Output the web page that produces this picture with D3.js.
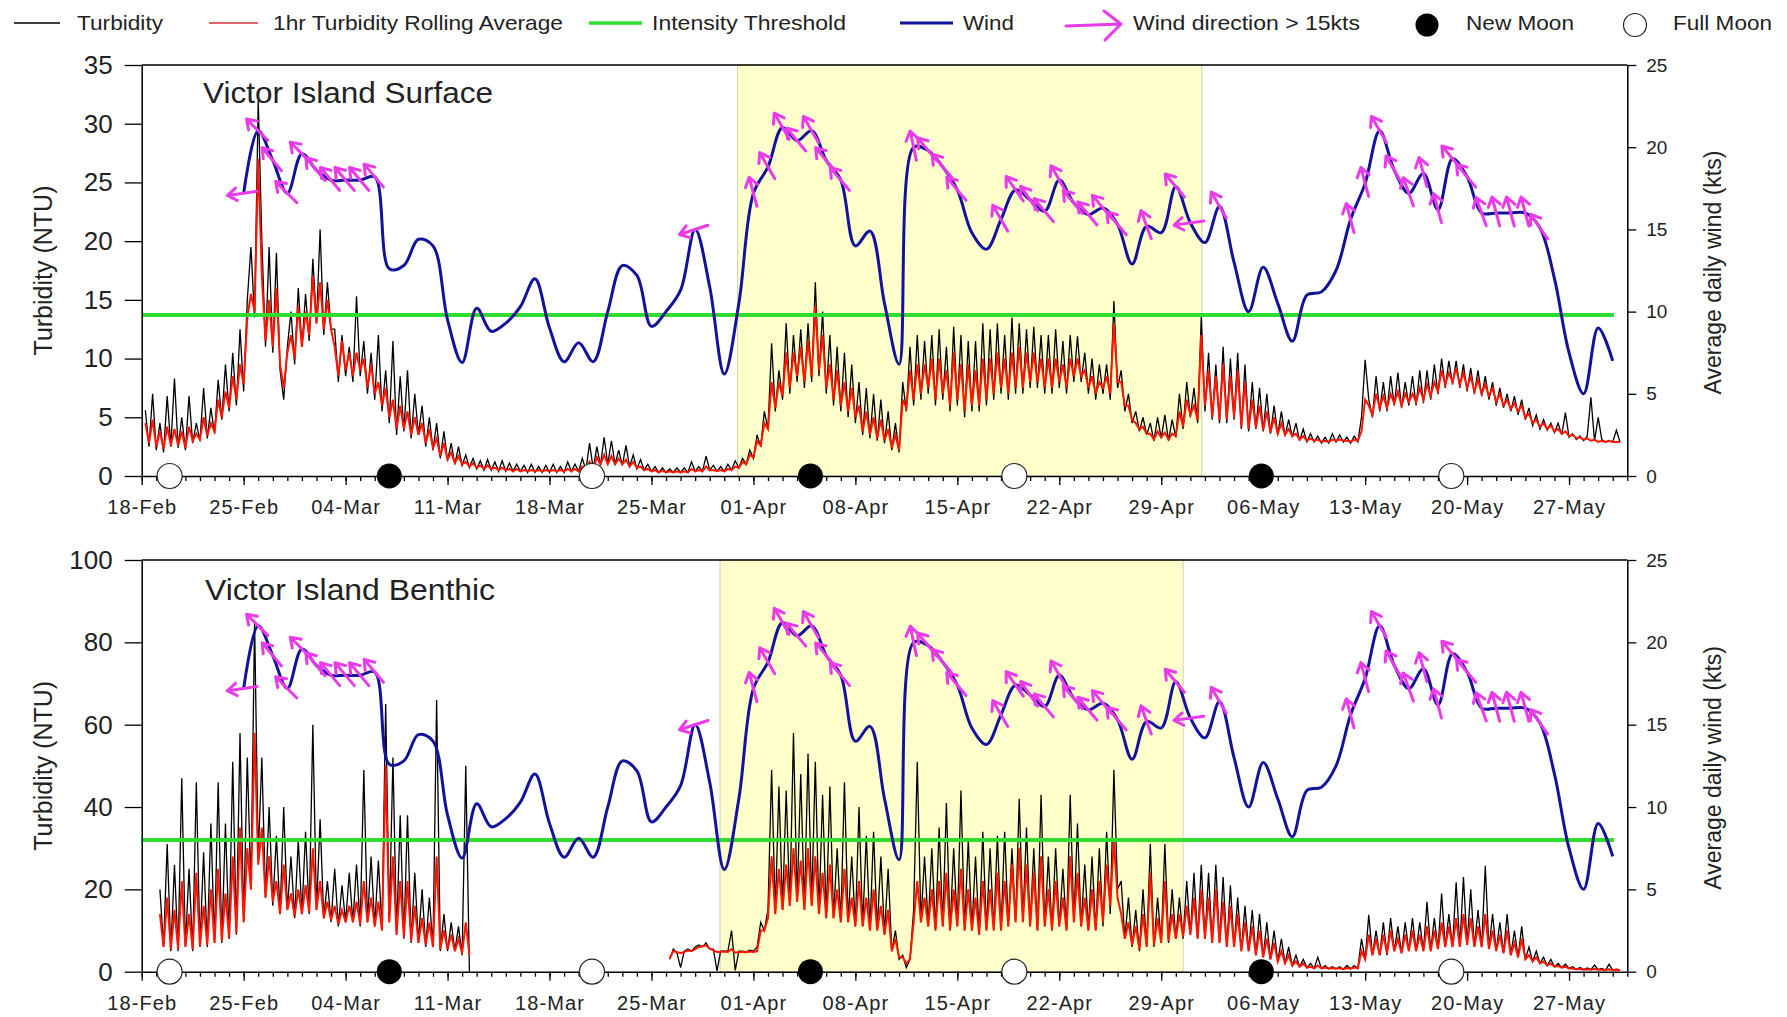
<!DOCTYPE html>
<html>
<head>
<meta charset="utf-8">
<script src="https://cdn.jsdelivr.net/npm/d3@7"></script>
<style>
body { margin: 0; background: #fff; }
svg text { font-family: "Liberation Sans", Arial, sans-serif; fill: #222; }
</style>
</head>
<body>
<svg id="chart" width="1787" height="1017"></svg>
<script>
// ---- data (days counted from 18-Feb-2019 00:00, 6-hourly samples) ----
var surfStartDay = 0.25
var surfTurb = [
  5.6,2.5,7.0,2.2, 4.5,2.0,6.8,2.5, 8.3,2.4,5.0,2.2, 6.8,2.8,4.5,3.0, 7.5,3.2,5.8,3.6, 8.2,4.8,9.5,5.5, 10.5,6.0,12.5,7.2,
  15.0,19.5,13.5,32.0, 20.0,11.0,19.5,10.5, 19.0,9.0,6.5,11.0, 14.0,9.5,16.0,11.0, 15.5,11.5,18.5,13.0, 21.0,12.0,16.5,12.5, 12.5,8.0,12.0,8.5,
  11.0,8.0,15.3,8.5, 11.5,7.0,10.5,6.5, 12.0,5.5,9.0,4.5, 11.5,3.5,8.5,3.8, 9.0,3.2,7.0,3.5, 6.0,2.5,5.0,2.2, 4.5,1.5,3.8,1.3,
  2.8,1.0,2.5,0.9, 1.8,0.7,1.5,0.6, 1.3,0.5,1.4,0.5, 1.2,0.4,1.3,0.4, 1.1,0.4,1.0,0.4, 0.9,0.3,1.0,0.3, 0.8,0.3,0.9,0.3,
  1.0,0.3,0.8,0.3, 1.2,0.4,1.0,0.4, 1.5,0.5,2.8,0.6, 2.5,0.9,3.3,1.0, 3.0,1.0,2.2,0.9, 2.6,0.8,1.8,0.6, 1.4,0.5,1.0,0.4,
  0.8,0.3,0.7,0.3, 0.6,0.3,0.7,0.3, 0.7,0.3,1.2,0.4, 0.8,0.4,1.7,0.5, 0.9,0.4,0.8,0.4, 1.0,0.5,1.3,0.7, 1.5,1.0,2.2,1.5,
  3.5,2.5,5.5,4.0, 11.3,5.5,9.0,6.5, 13.0,7.0,12.0,8.0, 12.5,7.5,13.0,8.0, 16.5,8.5,14.0,7.0, 12.0,6.0,11.0,5.5, 10.5,5.0,9.5,4.5,
  8.0,3.5,7.5,3.2, 7.0,3.0,6.5,2.8, 5.5,2.2,4.5,2.0, 8.0,5.5,11.0,6.0, 12.0,6.5,11.5,7.0, 12.0,6.0,12.5,6.5, 11.0,5.5,12.7,6.0,
  12.0,5.0,11.5,5.5, 11.5,5.5,13.0,6.0, 12.5,6.5,13.0,7.0, 12.0,6.5,13.5,7.0, 13.0,7.0,12.5,7.5, 12.7,7.5,12.0,7.0, 12.0,7.0,12.5,7.5,
  11.5,7.0,12.0,8.0, 11.9,8.0,10.5,7.0, 10.0,6.5,9.5,7.0, 9.5,6.5,14.9,7.5, 9.0,5.5,7.0,4.5, 5.5,3.8,5.0,3.5, 4.5,3.0,5.0,3.2,
  5.2,3.0,4.8,3.3, 7.0,4.0,8.0,5.0, 7.5,4.5,13.6,5.5, 10.5,4.8,9.5,4.5, 11.0,4.5,10.0,4.8, 10.5,4.0,9.5,3.8, 8.0,4.0,7.5,3.8,
  7.0,3.6,6.0,3.5, 5.5,3.4,4.8,3.3, 4.5,3.0,4.0,2.9, 3.6,2.9,3.4,2.8, 3.3,2.8,3.6,2.9, 3.5,2.9,3.3,2.8, 3.4,2.9,5.0,9.9,
  6.5,5.0,8.5,5.5, 8.0,5.5,8.5,6.0, 8.8,5.8,8.0,6.0, 8.5,6.0,9.0,6.2, 9.0,6.5,9.5,7.0, 10.0,7.5,9.8,7.8, 9.8,7.5,9.5,7.2,
  9.2,7.0,9.0,6.8, 8.5,6.5,8.0,6.0, 7.5,5.8,7.0,5.5, 6.8,5.2,6.5,4.8, 5.8,4.3,5.2,4.0, 4.8,3.9,4.5,3.7, 4.5,3.5,5.4,3.3,
  3.6,3.1,3.4,3.0, 3.4,6.7,3.0,5.0, 3.1,2.9,3.0,2.9, 3.9,2.9
]
var surfAvg = [
  4.5,2.8,4.8,2.5, 3.8,2.3,4.2,2.6, 4.0,2.6,3.8,2.4, 4.2,3.0,3.6,3.1, 5.0,3.4,4.5,3.8, 6.5,5.0,7.2,5.8, 8.5,6.5,9.5,7.8,
  13.5,15.5,14.0,27.0, 17.0,11.5,15.0,11.0, 16.0,9.5,7.5,10.5, 12.0,10.0,14.5,11.0, 14.0,12.0,17.0,13.0, 16.5,12.5,15.0,12.5, 11.0,8.5,11.5,9.0,
  10.5,8.5,10.5,9.0, 10.0,7.5,9.5,7.0, 8.0,6.0,7.5,5.0, 6.5,4.0,6.0,4.0, 5.5,3.5,5.0,3.5, 4.5,2.8,4.0,2.4, 3.2,1.7,2.8,1.4,
  2.0,1.1,1.7,1.0, 1.2,0.8,1.1,0.7, 0.9,0.6,0.9,0.6, 0.7,0.5,0.7,0.5, 0.6,0.4,0.6,0.4, 0.5,0.4,0.5,0.4, 0.5,0.4,0.5,0.4,
  0.5,0.4,0.5,0.4, 0.6,0.4,0.6,0.4, 0.8,0.5,1.2,0.6, 1.6,1.0,1.8,1.0, 1.7,1.0,1.5,1.0, 1.4,0.8,1.2,0.7, 0.8,0.5,0.6,0.4,
  0.5,0.3,0.5,0.3, 0.4,0.3,0.4,0.3, 0.4,0.3,0.6,0.4, 0.5,0.4,0.8,0.5, 0.5,0.4,0.5,0.4, 0.6,0.5,0.8,0.7, 1.2,1.0,1.8,1.6,
  3.0,2.6,4.5,4.0, 8.0,5.8,8.0,6.8, 10.5,7.5,10.5,8.5, 11.0,8.0,11.5,8.5, 14.5,9.0,12.0,7.5, 9.5,6.5,9.0,6.0, 8.0,5.5,7.5,5.0,
  6.0,3.8,5.5,3.5, 5.0,3.2,4.8,3.0, 4.0,2.4,3.5,2.2, 6.5,5.8,9.0,6.5, 9.5,7.0,9.5,7.5, 10.0,6.5,10.0,7.0, 9.0,6.0,10.5,6.5,
  9.5,5.5,9.5,6.0, 9.0,6.0,10.0,6.5, 10.0,7.0,10.5,7.5, 10.0,7.0,10.5,7.5, 11.0,7.5,10.5,8.0, 10.5,8.0,10.0,7.5, 10.0,7.5,10.0,8.0,
  9.5,7.5,10.0,8.5, 10.0,8.5,9.0,7.5, 8.5,7.0,8.0,7.5, 8.5,7.0,13.0,8.0, 8.0,6.0,6.0,4.8, 4.5,4.0,4.2,3.6, 3.6,3.1,3.8,3.3,
  3.7,3.1,3.6,3.4, 5.5,4.2,6.5,5.2, 6.0,4.8,12.0,6.0, 9.0,5.0,8.5,4.8, 9.5,4.8,8.5,5.0, 9.0,4.2,8.0,4.0, 6.5,4.1,6.0,3.9,
  5.5,3.7,5.0,3.6, 4.5,3.5,4.0,3.4, 3.6,3.1,3.4,3.0, 3.2,3.0,3.1,2.9, 3.0,2.9,3.1,3.0, 3.1,3.0,3.0,2.9, 3.1,3.0,3.8,6.5,
  6.0,5.2,7.0,5.8, 6.8,5.8,7.0,6.2, 7.2,6.0,7.0,6.3, 7.0,6.3,7.5,6.5, 7.8,6.8,8.0,7.2, 9.0,7.8,8.8,8.0, 9.2,7.8,8.8,7.5,
  8.5,7.2,8.2,7.0, 7.8,6.8,7.5,6.3, 7.0,6.0,6.5,5.7, 6.2,5.5,6.0,5.0, 5.3,4.5,4.8,4.2, 4.5,4.0,4.3,3.8, 4.0,3.6,3.8,3.4,
  3.5,3.2,3.3,3.1, 3.2,3.0,3.1,2.9, 3.0,2.9,3.0,2.9, 2.9,2.9
]

// benthic logger: two deployments with a gap in March
var benStartDay1 = 1.25
var benTurb1 = [
  20,6,31,5, 26,5,47,6, 25,5,46,6, 29,6,36,7, 46,7,36,8, 51,9,58,12, 52,20,85,28,
  52,18,40,16, 33,14,40,15, 28,13,32,14, 34,14,60,15, 37,13,22,12, 25,11,21,12, 24,12,26,11,
  49,12,28,11, 27,10,65,12, 52,9,38,8, 38,7,24,7, 20,6,18,6, 66,5,14,5, 12,5,11,4, 50,0
]
var benAvg1 = [
  14,6,18,5.5, 15,5.5,22,6, 14,5.5,24,6, 16,6.5,20,7, 25,7.5,19,8, 28,9.5,35,12, 30,20,58,26,
  35,18,28,17, 22,14,26,15, 19,13.5,20,14, 21,14.5,30,15, 22,13,17,12.5, 16,11.5,15,12, 16,12,17,11.5,
  22,12,18,11, 17,10,50,12, 28,9,22,8.5, 22,7.5,16,7, 13,6.5,12,6, 28,5.5,10,5.5, 9,5,8,4.5, 12,4
]
var benStartDay2 = 36.25
var benTurb2 = [
  3,5.5,4.5,1.0, 5,5.5,5,6, 6.5,6,7,5.5, 5.5,0.2,5,5, 5,10,0.3,5, 5,4.8,5.2,5, 6,12,10,15,
  49,14,45,15, 44,16,58,17, 48,15,53,16, 51,14,43,13, 45,13,30,12, 46,12,28,11, 40,11,33,10,
  34,10,28,9, 25,5,10,3, 4,1,3,15, 51,12,28,11, 30,10,35,11, 41,10,30,11, 44,10,32,10,
  28,9,34,10, 30,10,33,10, 34,11,30,12, 42,12,35,11, 30,10,43,11, 28,10,30,11, 25,10,43,12,
  36,11,26,10, 28,10,30,11, 34,14,49,20, 22,8,18,6, 15,5,20,6, 31,6,18,7, 31,7,20,8,
  18,8,22,9, 24,8,26,8, 24,7,26,7, 23,6,21,6, 18,5,16,5, 15,4,14,3.5, 12,3,10,2.5,
  8,2,6,1.5, 4,1.2,3,1, 2,0.8,3.5,0.8, 1.5,0.7,1.2,0.7, 1.2,0.6,1.5,0.7, 1.5,0.8,8,3, 13.8,4,10,4,
  12,4,13,5, 11,4.5,12,5, 13,5,12,5, 17,5,13,5.5, 19,6,14,6, 21.7,6,23,6.5, 20,6,15,6,
  25.7,5.5,14,5, 12,4.5,14,4, 10,3.5,11,3, 6,2.5,5,2, 3.5,1.5,3,1.2, 2,1,1.8,0.8, 1.2,0.6,1,0.5,
  0.9,0.5,1.6,0.5, 0.8,0.4,1.8,0.4, 0.6,0.4
]
var benAvg2 = [
  3.2,5,4.8,4.5, 4.8,5.2,5.0,5.5, 6.0,6.2,6.4,5.6, 5.2,4.8,4.8,4.9, 4.8,5.5,4.6,4.8, 4.8,4.7,4.9,4.8, 5,10,10,13,
  28,14,25,15, 26,16,30,17, 27,15,30,16, 28,14,24,13, 26,13,20,12, 25,12,18,11, 22,11,18,10,
  20,10,16,9, 15,5,8,3.5, 3.5,2,3,12, 22,12,18,11, 20,10,22,11, 24,10,20,11, 25,10,20,10,
  18,9,22,10, 20,10,24,10, 22,11,26,12, 30,12,26,11, 24,10,28,11, 20,10,22,11, 18,10,28,12,
  24,11,18,10, 20,10,22,12, 26,16,32,18, 14,8,12,6.5, 11,5.5,14,6, 24,6.5,13,7, 22,7.5,14,8,
  14,8.5,16,9, 18,8,20,8, 18,7,20,7, 17,6,16,6, 14,5,12,5, 11,4,10,3.5, 8,3,7,2.5,
  5,2,4,1.5, 2.5,1.2,2,1, 1.2,0.8,1.5,0.8, 1,0.7,0.9,0.7, 0.9,0.6,0.9,0.7, 1,0.8,5,3, 9,4,8,4,
  9,4.5,10,5, 8,4.5,9,5, 10,5,9,5, 11,5,10,5.5, 12,6,11,6, 13,6,14,6.5, 13,6,11,6,
  14,5.5,10,5, 9,4.5,10,4, 7,3.5,8,3, 4,2.5,3.5,2, 2.5,1.5,2,1.2, 1.4,1,1.2,0.8, 0.8,0.6,0.7,0.5,
  0.6,0.5,0.7,0.5, 0.5,0.4,0.6,0.4, 0.5,0.4
]

// average daily wind (kts), one value per day from 25-Feb
var windStartDay = 7
var windKts = [
  17.2, 21.0, 19.2, 17.2, 19.6, 18.6, 18.0, 18.0, 18.0, 18.2, 12.6, 12.8, 14.4, 14.0,
  9.5, 6.9, 10.2, 8.8, 9.3, 10.3, 12.0, 9.0, 6.95, 8.1, 6.95, 10.0, 12.8, 12.2,
  9.1, 10.0, 11.3, 15.0, 11.5, 6.2, 10.5, 17.2, 18.8, 21.2, 20.4, 21.0, 19.2, 18.0,
  14.0, 14.9, 10.5, 6.8, 20.0, 19.8, 18.8, 17.4, 14.8, 13.8, 15.6, 17.4, 16.8, 16.1,
  18.0, 16.6, 15.9, 16.3, 15.3, 12.9, 15.2, 14.8, 17.6, 15.4, 14.2, 16.4, 13.0, 10.0,
  12.7, 10.5, 8.2, 11.0, 11.2, 12.5, 15.6, 17.8, 21.0, 18.6, 17.2, 18.4, 16.2, 19.3,
  18.2, 16.0, 16.0, 16.0, 16.0, 15.1, 12.0, 7.5, 5.0, 9.0, 7.0
]

// wind direction arrows (days where wind > 15 kts), bearing the arrow points to
var arrowDays =    [7, 8, 9, 10, 11, 12, 13, 14, 15, 16, 38, 42, 43, 44, 45, 46, 47, 48, 53, 54, 55, 56,
                    59, 60, 61, 62, 63, 64, 65, 66, 67, 69, 71, 72, 74, 83, 84, 85, 86, 87, 88, 89, 90,
                    91, 92, 93, 94, 95, 96]
var arrowBearing = [262, 315, 320, 315, 315, 320, 320, 320, 320, 320, 252, 345, 330, 330, 320, 330, 320, 320, 348, 320, 320, 320,
                    330, 325, 325, 320, 330, 320, 320, 320, 320, 340, 320, 262, 330, 345, 345, 330, 330, 340, 345, 345, 320,
                    320, 340, 345, 345, 345, 325]

var newMoons = ['2019-03-07T00:00Z', '2019-04-04T22:00Z', '2019-05-05T21:00Z']
var fullMoons = ['2019-02-19T22:00Z', '2019-03-20T22:00Z', '2019-04-18T22:00Z', '2019-05-18T22:00Z']

var surfShade = ['2019-03-30T22:00Z', '2019-05-01T19:00Z']
var benShade = ['2019-03-29T17:00Z', '2019-04-30T12:00Z']
var surfThreshold = 13.7
var benThreshold = 32
var thresholdEnd = '2019-05-30T02:00Z'

var surfTicks = [0, 5, 10, 15, 20, 25, 30, 35]
var benTicks = [0, 20, 40, 60, 80, 100]
var windTicks = [0, 5, 10, 15, 20, 25]

// ---- drawing ----
var svg = d3.select('#chart')
var t0 = Date.UTC(2019, 1, 18)
var DAY = 864e5
var dayDate = function(d){ return new Date(t0 + d * DAY) }

var x = d3.scaleUtc()
    .domain([new Date(t0), new Date(Date.UTC(2019, 4, 31))])
    .range([141.7, 1627.3])

var toSeries = function(startDay, vals){
    return vals.map(function(v, i){ return {t: dayDate(startDay + i * 0.25), v: v} })
}

var windData = windKts.map(function(v, i){ return {t: dayDate(windStartDay + i), v: v} })

var RED = '#ff1500'
var BLUE = '#12129a'
var GREEN = '#2fdc2f'
var PINK = '#e93be9'

function arrow(g, px, py, bearing, len, head){
    var a = bearing * Math.PI / 180
    var vx = Math.sin(a), vy = -Math.cos(a)
    var x1 = px - vx * len * 0.45, y1 = py - vy * len * 0.45
    var x2 = px + vx * len * 0.55, y2 = py + vy * len * 0.55
    var wing = function(s){
        var b = Math.atan2(vy, vx) + Math.PI + s * 0.6
        return [x2 + Math.cos(b) * head, y2 + Math.sin(b) * head]
    }
    var w1 = wing(1), w2 = wing(-1)
    g.append('path')
        .attr('d', 'M' + x1 + ',' + y1 + 'L' + x2 + ',' + y2 +
                   'M' + w1[0] + ',' + w1[1] + 'L' + x2 + ',' + y2 + 'L' + w2[0] + ',' + w2[1])
        .attr('fill', 'none')
        .attr('stroke', PINK)
        .attr('stroke-width', 3)
        .attr('stroke-linecap', 'round')
        .attr('stroke-linejoin', 'round')
}

function drawPanel(p){
    var g = svg.append('g')
    var y = d3.scaleLinear().domain([0, p.yMax]).range([p.bottom, p.top])
    var yw = d3.scaleLinear().domain([0, 25]).range([p.bottom, p.top])

    // shaded period
    g.append('rect')
        .attr('x', x(new Date(p.shade[0])))
        .attr('y', p.top)
        .attr('width', x(new Date(p.shade[1])) - x(new Date(p.shade[0])))
        .attr('height', p.bottom - p.top)
        .attr('fill', '#ffffcc')
        .attr('stroke', '#cfcfa8')
        .attr('stroke-width', 1)

    var line = d3.line().x(function(d){ return x(d.t) }).y(function(d){ return y(d.v) })

    p.turb.forEach(function(s){
        g.append('path').datum(s).attr('d', line)
            .attr('fill', 'none').attr('stroke', '#000').attr('stroke-width', 1.3)
    })
    p.avg.forEach(function(s){
        g.append('path').datum(s).attr('d', line)
            .attr('fill', 'none').attr('stroke', RED).attr('stroke-width', 2)
    })

    // intensity threshold
    g.append('line')
        .attr('x1', x(new Date(t0))).attr('x2', x(new Date(thresholdEnd)))
        .attr('y1', y(p.threshold)).attr('y2', y(p.threshold))
        .attr('stroke', GREEN).attr('stroke-width', 4)

    // wind
    var wline = d3.line()
        .x(function(d){ return x(d.t) })
        .y(function(d){ return yw(d.v) })
        .curve(d3.curveCatmullRom.alpha(0.5))
    g.append('path').datum(windData).attr('d', wline)
        .attr('fill', 'none').attr('stroke', BLUE).attr('stroke-width', 3)

    arrowDays.forEach(function(d, i){
        var w = windKts[d - windStartDay]
        arrow(g, x(dayDate(d)), yw(w), arrowBearing[i], 30, 11)
    })

    // frame + axes
    g.append('line')
        .attr('x1', x.range()[0]).attr('x2', x.range()[1])
        .attr('y1', p.top).attr('y2', p.top)
        .attr('stroke', '#000').attr('stroke-width', 1.5)

    var minor = g.append('g').attr('transform', 'translate(0,' + p.bottom + ')')
        .call(d3.axisBottom(x).ticks(d3.utcDay.every(1)).tickSize(5).tickSizeOuter(0).tickFormat(''))
    minor.select('.domain').remove()

    var major = g.append('g').attr('transform', 'translate(0,' + p.bottom + ')')
        .call(d3.axisBottom(x).ticks(d3.utcMonday.every(1)).tickSize(9).tickSizeOuter(0)
            .tickPadding(15).tickFormat(d3.utcFormat('%d-%b')))
    major.selectAll('text').attr('font-size', 20).attr('letter-spacing', 1.1)

    var left = g.append('g').attr('transform', 'translate(' + x.range()[0] + ',0)')
        .call(d3.axisLeft(y).tickValues(p.ticks).tickSize(17).tickSizeOuter(0).tickPadding(12))
    left.selectAll('text').attr('font-size', 26)

    var right = g.append('g').attr('transform', 'translate(' + x.range()[1] + ',0)')
        .call(d3.axisRight(yw).tickValues(windTicks).tickSize(9).tickSizeOuter(0).tickPadding(10))
    right.selectAll('text').attr('font-size', 19)

    g.selectAll('.domain').attr('stroke-width', 1.5)
    g.selectAll('.tick line').attr('stroke-width', 1.3)
    g.selectAll('.tick text').attr('fill', '#222')

    // titles
    g.append('text')
        .attr('transform', 'translate(43,' + (p.top + p.bottom) / 2 + ') rotate(-90)')
        .attr('text-anchor', 'middle').attr('dy', '0.35em')
        .attr('font-size', 25)
        .text('Turbidity (NTU)')
    g.append('text')
        .attr('transform', 'translate(1713,' + ((p.top + p.bottom) / 2 + 2) + ') rotate(-90)')
        .attr('text-anchor', 'middle').attr('dy', '0.35em')
        .attr('font-size', 23)
        .text('Average daily wind (kts)')
    g.append('text')
        .attr('x', p.titleX).attr('y', p.titleY)
        .attr('font-size', 29)
        .attr('textLength', 290).attr('lengthAdjust', 'spacingAndGlyphs')
        .text(p.title)

    // moon phases sit on the time axis
    g.selectAll('circle.full').data(fullMoons).join('circle')
        .attr('class', 'full')
        .attr('cx', function(d){ return x(new Date(d)) }).attr('cy', p.bottom)
        .attr('r', 12.5).attr('fill', '#fff').attr('stroke', '#222').attr('stroke-width', 1.2)
    g.selectAll('circle.new').data(newMoons).join('circle')
        .attr('class', 'new')
        .attr('cx', function(d){ return x(new Date(d)) }).attr('cy', p.bottom)
        .attr('r', 12.5).attr('fill', '#000')
}

drawPanel({
    top: 65, bottom: 476, yMax: 35, ticks: surfTicks,
    title: 'Victor Island Surface', titleX: 203, titleY: 103,
    shade: surfShade, threshold: surfThreshold,
    turb: [toSeries(surfStartDay, surfTurb)],
    avg: [toSeries(surfStartDay, surfAvg)]
})
drawPanel({
    top: 560, bottom: 971.7, yMax: 100, ticks: benTicks,
    title: 'Victor Island Benthic', titleX: 205, titleY: 600,
    shade: benShade, threshold: benThreshold,
    turb: [toSeries(benStartDay1, benTurb1), toSeries(benStartDay2, benTurb2)],
    avg: [toSeries(benStartDay1, benAvg1), toSeries(benStartDay2, benAvg2)]
})

// ---- legend ----
var lg = svg.append('g')
var legendY = 23
lg.append('line').attr('x1', 14).attr('x2', 60).attr('y1', legendY).attr('y2', legendY)
    .attr('stroke', '#000').attr('stroke-width', 1.6)
lg.append('line').attr('x1', 209).attr('x2', 258).attr('y1', legendY).attr('y2', legendY)
    .attr('stroke', '#d0303a').attr('stroke-width', 1.6)
lg.append('line').attr('x1', 589).attr('x2', 642).attr('y1', legendY).attr('y2', legendY)
    .attr('stroke', GREEN).attr('stroke-width', 3.5)
lg.append('line').attr('x1', 900).attr('x2', 953).attr('y1', legendY).attr('y2', legendY)
    .attr('stroke', BLUE).attr('stroke-width', 3)
lg.append('path')
    .attr('d', 'M1066,26 L1121,24 M1104,11 L1121,24 L1105,40')
    .attr('fill', 'none').attr('stroke', PINK).attr('stroke-width', 3)
    .attr('stroke-linecap', 'round').attr('stroke-linejoin', 'round')
lg.append('circle').attr('cx', 1427).attr('cy', 25).attr('r', 11.5).attr('fill', '#000')
lg.append('circle').attr('cx', 1635).attr('cy', 25).attr('r', 11.5)
    .attr('fill', '#fff').attr('stroke', '#222').attr('stroke-width', 1.2)

var legendText = [
    ['Turbidity', 77, 86],
    ['1hr Turbidity Rolling Average', 273, 290],
    ['Intensity Threshold', 652, 194],
    ['Wind', 963, 51],
    ['Wind direction > 15kts', 1133, 227],
    ['New Moon', 1466, 108],
    ['Full Moon', 1673, 99]
]
lg.selectAll('text').data(legendText).join('text')
    .attr('x', function(d){ return d[1] })
    .attr('y', 30)
    .attr('font-size', 21)
    .attr('textLength', function(d){ return d[2] })
    .attr('lengthAdjust', 'spacingAndGlyphs')
    .text(function(d){ return d[0] })
</script>
</body>
</html>
